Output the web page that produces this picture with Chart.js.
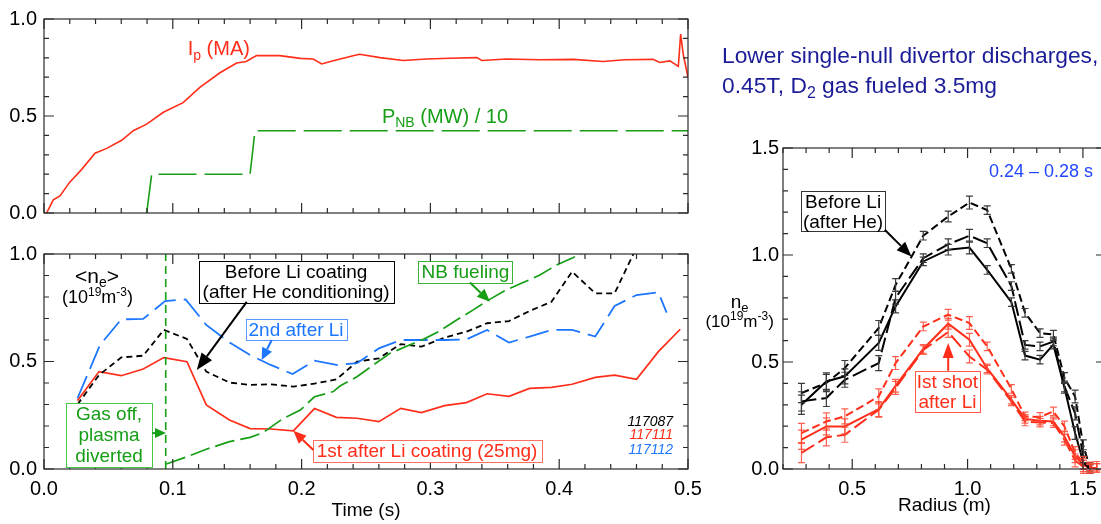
<!DOCTYPE html>
<html>
<head>
<meta charset="utf-8">
<title>Density with Li coating</title>
<script src="https://cdn.jsdelivr.net/npm/chart.js@4.4.1/dist/chart.umd.min.js"></script>
<style>
  html, body { margin:0; padding:0; background:#fff; }
  body { width:1101px; height:524px; overflow:hidden; position:relative; font-family:"Liberation Sans", Arial, Helvetica, sans-serif; }
  canvas { position:absolute; }
  #heading { position:absolute; left:722px; top:40px; color:rgb(28,28,150); font-size:22.8px; line-height:30px; white-space:nowrap; }
  #heading sub { font-size:70%; vertical-align:-0.3em; line-height:0; }
</style>
</head>
<body>
<canvas id="topChart" width="700" height="232" style="left:0;top:0"></canvas>
<canvas id="densChart" width="720" height="292" style="left:0;top:232px"></canvas>
<canvas id="profChart" width="410" height="404" style="left:700px;top:120px"></canvas>
<div id="heading">Lower single-null divertor discharges,<br>0.45T, D<sub>2</sub> gas fueled 3.5mg</div>
<script>
// ---------------- data: top panel ----------------
const ipTime = [0.002, 0.0072, 0.0124, 0.020, 0.0293, 0.0396, 0.0487, 0.0603, 0.0693, 0.0797, 0.0927, 0.108, 0.121, 0.1366, 0.1496, 0.157, 0.165, 0.183, 0.199, 0.209, 0.2156, 0.2246, 0.240, 0.245, 0.261, 0.279, 0.297, 0.315, 0.336, 0.340, 0.359, 0.385, 0.411, 0.434, 0.451, 0.473, 0.478, 0.486, 0.4925, 0.4943, 0.4964, 0.4977, 0.5];
const ipMA   = [0.0, 0.068, 0.088, 0.159, 0.225, 0.308, 0.333, 0.375, 0.424, 0.458, 0.519, 0.569, 0.648, 0.723, 0.773, 0.781, 0.811, 0.811, 0.797, 0.794, 0.768, 0.785, 0.811, 0.818, 0.801, 0.786, 0.794, 0.798, 0.801, 0.786, 0.794, 0.790, 0.792, 0.781, 0.790, 0.792, 0.776, 0.784, 0.756, 0.922, 0.814, 0.773, 0.698];
const pnbTime  = [0.0797, 0.0836, 0.160, 0.1638, 0.5];
const pnbMW10  = [0.0, 0.2, 0.2, 0.424, 0.424];

// ---------------- data: bottom panel (line-averaged density) ----------------
const tsTime   = [0.026, 0.0427, 0.060, 0.077, 0.093, 0.111, 0.126, 0.144, 0.160, 0.176, 0.1936, 0.210, 0.227, 0.243, 0.260, 0.277, 0.293, 0.311, 0.328, 0.344, 0.361, 0.377, 0.394, 0.410, 0.428, 0.443, 0.460, 0.477, 0.494];
const ne117087 = [0.30, 0.437, 0.519, 0.527, 0.647, 0.605, 0.453, 0.402, 0.391, 0.394, 0.383, 0.397, 0.417, 0.499, 0.515, 0.581, 0.569, 0.611, 0.639, 0.678, 0.688, 0.735, 0.778, 0.918, 0.817, 0.817, 1.03, null, null];
const ne117111 = [0.318, 0.453, 0.434, 0.465, 0.518, 0.499, 0.298, 0.228, 0.188, 0.186, 0.177, 0.281, 0.240, 0.236, 0.220, 0.282, 0.262, 0.295, 0.309, 0.350, 0.338, 0.375, 0.380, 0.394, 0.426, 0.437, 0.417, 0.546, 0.650];
const tsTime117112 = [0.026, 0.0435, 0.060, 0.077, 0.094, 0.110, 0.126, 0.144, 0.160, 0.176, 0.193, 0.210, 0.227, 0.243, 0.260, 0.277, 0.293, 0.311, 0.328, 0.344, 0.361, 0.377, 0.394, 0.410, 0.428, 0.443, 0.460, 0.477, 0.4834];
const ne117112 = [0.329, 0.577, 0.696, 0.698, 0.781, 0.789, 0.670, 0.589, 0.530, 0.484, 0.442, 0.504, 0.484, 0.492, 0.561, 0.600, 0.600, 0.600, 0.603, 0.647, 0.588, 0.616, 0.647, 0.647, 0.616, 0.758, 0.809, 0.822, 0.727];
const nbFuelTime = [0.095, 0.111, 0.126, 0.144, 0.160, 0.170, 0.186, 0.199, 0.210, 0.2246, 0.2298, 0.243, 0.2557, 0.2686, 0.282, 0.2945, 0.3075, 0.3204, 0.3333, 0.346, 0.359, 0.372, 0.385, 0.398, 0.411, 0.4175, 0.430];
const nbFuelNe   = [0.023, 0.057, 0.092, 0.127, 0.147, 0.169, 0.236, 0.274, 0.336, 0.360, 0.386, 0.429, 0.484, 0.538, 0.572, 0.603, 0.643, 0.693, 0.740, 0.789, 0.833, 0.867, 0.902, 0.949, 0.984, 1.003, 1.050];
const gasOffTime = 0.0945;

// ---------------- data: right panel (profiles, 0.24-0.28 s) ----------------
const radius        = [0.28, 0.388, 0.468, 0.615, 0.688, 0.808, 0.916, 1.008, 1.085, 1.19, 1.249, 1.314, 1.372, 1.42, 1.466, 1.502, 1.53, 1.56];
const neBeforeShort = [0.355, 0.402, 0.472, 0.659, 0.86, 1.09, 1.18, 1.245, 1.21, 0.935, 0.73, 0.635, 0.628, 0.425, 0.339, 0.106, 0.01, null];
const neBeforeLong  = [0.316, 0.332, 0.417, 0.495, 0.80, 0.985, 1.05, 1.09, 1.055, 0.855, 0.58, 0.573, 0.596, 0.386, 0.26, 0.06, 0.0, null];
const neBeforeSolid = [0.30, 0.409, 0.433, 0.589, 0.76, 0.97, 1.025, 1.035, 0.93, 0.78, 0.53, 0.511, 0.581, 0.38, 0.168, 0.03, 0.0, null];
const neAfterShort  = [0.168, 0.222, 0.246, 0.339, 0.495, 0.666, 0.721, 0.682, 0.573, 0.374, 0.246, 0.243, 0.269, 0.199, 0.075, 0.028, 0.012, 0.015];
const neAfterSolid  = [0.137, 0.199, 0.199, 0.280, 0.389, 0.561, 0.679, 0.604, 0.47, 0.324, 0.234, 0.226, 0.222, 0.152, 0.06, 0.018, 0.005, 0.005];
const neAfterLong   = [0.075, 0.148, 0.160, 0.277, 0.379, 0.556, 0.640, 0.526, 0.464, 0.316, 0.222, 0.217, 0.214, 0.137, 0.04, 0.01, 0.0, 0.005];
const neErr         = [0.045, 0.04, 0.035, 0.035, 0.03, 0.02, 0.025, 0.03, 0.02, 0.02, 0.02, 0.02, 0.02, 0.025, 0.03, 0.03, 0.02, 0.02];

// ---------------- tick labels ----------------
const timeTicks    = [0, 0.1, 0.2, 0.3, 0.4, 0.5];
const unitTicks    = [0, 0.5, 1.0];
const radiusTicks  = [0.5, 1.0, 1.5];
const profileTicks = [0, 0.5, 1.0, 1.5];

// ---------------- style ----------------
const FF = '"Liberation Sans", Arial, Helvetica, sans-serif';
Chart.defaults.font.family = FF;
Chart.defaults.color = '#000';
const RED = 'rgb(255,45,25)', GREEN = 'rgb(22,158,22)', BLUE = 'rgb(28,118,255)';
const RED_ERR = 'rgba(255,70,50,0.85)', BLK_ERR = '#3a3a3a';

const pts = (xs, ys) => xs.map((x, i) => ({ x, y: ys[i] }));

function yScale(ticks, min, max, width, pad) {
  return { type: 'linear', min, max, position: 'left',
    grid: { display: false, drawTicks: false }, border: { display: false },
    afterBuildTicks: s => { s.ticks = ticks.map(v => ({ value: v })); },
    afterFit: s => { s.width = width; },
    ticks: { autoSkip: false, padding: pad, color: '#000', font: { size: 20 }, callback: v => Number(v).toFixed(1) } };
}
function xScale(ticks, min, max, height, pad, title, tpad) {
  return { type: 'linear', min, max, position: 'bottom',
    grid: { display: false, drawTicks: false }, border: { display: false },
    afterBuildTicks: s => { s.ticks = ticks.map(v => ({ value: v })); },
    afterFit: s => { s.height = height; },
    ticks: { autoSkip: false, maxRotation: 0, minRotation: 0, padding: pad, color: '#000', font: { size: 20 }, callback: v => Number(v).toFixed(1) },
    title: { display: true, text: title, color: '#000', font: { size: 19 }, padding: { top: 0, bottom: tpad } } };
}

// ---------------- drawing helpers ----------------
function drawRich(ctx, parts, x, y, size, color, align, italic) {
  ctx.save();
  const fontFor = m => `${italic ? 'italic ' : ''}${m ? Math.round(size * 0.68) : size}px ${FF}`;
  let w = 0;
  for (const [t, m] of parts) { ctx.font = fontFor(m); w += ctx.measureText(t).width; }
  let cx = align === 'right' ? x - w : align === 'left' ? x : x - w / 2;
  ctx.fillStyle = color; ctx.textAlign = 'left'; ctx.textBaseline = 'middle';
  for (const [t, m] of parts) {
    ctx.font = fontFor(m);
    const dy = m === 1 ? size * 0.3 : m === 2 ? -size * 0.32 : 0;
    ctx.fillText(t, cx, y + dy);
    cx += ctx.measureText(t).width;
  }
  ctx.restore();
}
function drawBox(ctx, n, cx, cy) {
  ctx.save();
  ctx.font = `${n.size}px ${FF}`;
  const w = Math.max(...n.lines.map(l => ctx.measureText(l).width));
  const h = n.lines.length * n.lh;
  const bw = Math.round(w + 2 * n.padX), bh = Math.round(h + 2 * n.padY);
  const bx = Math.round(cx - bw / 2) + 0.5, by = Math.round(cy - bh / 2) + 0.5;
  ctx.fillStyle = '#fff'; ctx.fillRect(bx, by, bw, bh);
  ctx.strokeStyle = n.border; ctx.lineWidth = 1; ctx.setLineDash([]); ctx.strokeRect(bx, by, bw, bh);
  ctx.fillStyle = n.color; ctx.textAlign = 'center'; ctx.textBaseline = 'middle';
  n.lines.forEach((l, i) => ctx.fillText(l, cx, cy - h / 2 + n.lh * (i + 0.5) + 1));
  ctx.restore();
}
function drawArrow(ctx, x1, y1, x2, y2, color, hl, hw) {
  const a = Math.atan2(y2 - y1, x2 - x1);
  const bx = x2 - hl * Math.cos(a), by = y2 - hl * Math.sin(a);
  ctx.save();
  ctx.strokeStyle = color; ctx.fillStyle = color; ctx.lineWidth = 2; ctx.setLineDash([]);
  ctx.beginPath(); ctx.moveTo(x1, y1); ctx.lineTo(bx, by); ctx.stroke();
  ctx.beginPath(); ctx.moveTo(x2, y2);
  ctx.lineTo(bx + hw * Math.sin(a), by - hw * Math.cos(a));
  ctx.lineTo(bx - hw * Math.sin(a), by + hw * Math.cos(a));
  ctx.closePath(); ctx.fill();
  ctx.restore();
}

// ---------------- plugins ----------------
function framePlugin(o) {
  return { id: 'frameTicks', afterDatasetsDraw(chart) {
    const { ctx, chartArea: a, scales: { x, y } } = chart;
    const each = (min, max, step, fn) => { for (let k = Math.ceil(min / step - 1e-9); k * step <= max + 1e-9; k++) fn(k * step); };
    const isMaj = (v, m) => Math.abs(v / m - Math.round(v / m)) < 1e-6;
    ctx.save();
    ctx.strokeStyle = '#2a2a2a'; ctx.lineWidth = 1.2; ctx.setLineDash([]);
    ctx.strokeRect(a.left, a.top, a.right - a.left, a.bottom - a.top);
    ctx.beginPath();
    each(x.min, x.max, o.xMinor, v => {
      const p = x.getPixelForValue(v), L = isMaj(v, o.xMajor) ? 10 : 5;
      ctx.moveTo(p, a.bottom); ctx.lineTo(p, a.bottom - L);
      ctx.moveTo(p, a.top); ctx.lineTo(p, a.top + L);
    });
    each(y.min, y.max, o.yMinor, v => {
      const p = y.getPixelForValue(v), L = isMaj(v, o.yMajor) ? 10 : 5;
      ctx.moveTo(a.left, p); ctx.lineTo(a.left + L, p);
      ctx.moveTo(a.right, p); ctx.lineTo(a.right - L, p);
    });
    ctx.stroke();
    ctx.restore();
  } };
}
function notesPlugin(items) {
  return { id: 'notes', afterDraw(chart) {
    const { ctx, scales: { x, y } } = chart;
    const px = v => x.getPixelForValue(v), py = v => y.getPixelForValue(v);
    for (const n of items) {
      if (n.kind === 'rich') drawRich(ctx, n.parts, px(n.x), py(n.y), n.size, n.color, n.align, n.italic);
      else if (n.kind === 'box') drawBox(ctx, n, px(n.x), py(n.y));
      else if (n.kind === 'arrow') drawArrow(ctx, px(n.x1), py(n.y1), px(n.x2), py(n.y2), n.color, n.hl, n.hw);
    }
  } };
}
const errorBarPlugin = { id: 'errBars', afterDatasetsDraw(chart) {
  const { ctx, scales: { x, y } } = chart;
  ctx.save(); ctx.setLineDash([]); ctx.lineWidth = 1.2;
  chart.data.datasets.forEach(ds => {
    if (!ds.errs) return;
    ctx.strokeStyle = ds.errColor;
    ctx.beginPath();
    ds.data.forEach((p, i) => {
      if (p.y === null || p.y === undefined) return;
      const px = x.getPixelForValue(p.x), lo = y.getPixelForValue(p.y - ds.errs[i]), hi = y.getPixelForValue(p.y + ds.errs[i]);
      ctx.moveTo(px, lo); ctx.lineTo(px, hi);
      ctx.moveTo(px - 3.5, lo); ctx.lineTo(px + 3.5, lo);
      ctx.moveTo(px - 3.5, hi); ctx.lineTo(px + 3.5, hi);
    });
    ctx.stroke();
  });
  ctx.restore();
} };

const baseOpts = {
  responsive: false, animation: false, devicePixelRatio: 1,
  elements: { point: { radius: 0, hoverRadius: 0 }, line: { tension: 0, fill: false } },
  plugins: { legend: { display: false }, tooltip: { enabled: false } },
  events: []
};

// ---------------- top panel: Ip and PNB ----------------
new Chart(document.getElementById('topChart'), {
  type: 'line',
  data: { datasets: [
    { label: 'P_NB (MW) / 10', data: pts(pnbTime, pnbMW10), borderColor: GREEN, borderWidth: 1.6, borderDash: [38, 8] },
    { label: 'I_p (MA)', data: pts(ipTime, ipMA), borderColor: RED, borderWidth: 1.6 }
  ] },
  options: Object.assign({}, baseOpts, {
    layout: { padding: { top: 16, right: 12, bottom: 15, left: 0 } },
    scales: { x: { type: 'linear', min: 0, max: 0.5, display: false }, y: yScale(unitTicks, 0, 1, 44, 7) }
  }),
  plugins: [framePlugin({ xMinor: 0.02, xMajor: 0.1, yMinor: 0.1, yMajor: 0.5 }), notesPlugin([
    { kind: 'rich', x: 0.1357, y: 0.841, size: 20, color: RED, parts: [['I', 0], ['p', 1], [' (MA)', 0]] },
    { kind: 'rich', x: 0.3113, y: 0.4925, size: 20, color: GREEN, parts: [['P', 0], ['NB', 1], [' (MW) / 10', 0]] }
  ])]
});

// ---------------- bottom panel: line-averaged density ----------------
new Chart(document.getElementById('densChart'), {
  type: 'line',
  data: { datasets: [
    { label: 'Gas off', data: [{ x: gasOffTime, y: 0 }, { x: gasOffTime, y: 1 }], borderColor: GREEN, borderWidth: 1.6, borderDash: [8, 5] },
    { label: 'NB fueling', data: pts(nbFuelTime, nbFuelNe), borderColor: GREEN, borderWidth: 1.7, borderDash: [20, 6] },
    { label: '117112', data: pts(tsTime117112, ne117112), borderColor: BLUE, borderWidth: 1.8, borderDash: [24, 8] },
    { label: '117087', data: pts(tsTime, ne117087), borderColor: '#000', borderWidth: 1.8, borderDash: [6, 4] },
    { label: '117111', data: pts(tsTime, ne117111), borderColor: RED, borderWidth: 1.7 }
  ] },
  options: Object.assign({}, baseOpts, {
    layout: { padding: { top: 22, right: 32, bottom: 0, left: 0 } },
    scales: { x: xScale(timeTicks, 0, 0.5, 55, 8, 'Time (s)', 2), y: yScale(unitTicks, 0, 1, 44, 7) }
  }),
  plugins: [framePlugin({ xMinor: 0.02, xMajor: 0.1, yMinor: 0.1, yMajor: 0.5 }), notesPlugin([
    { kind: 'rich', x: 0.0411, y: 0.893, size: 21, color: '#000', parts: [['<n', 0], ['e', 1], ['>', 0]] },
    { kind: 'rich', x: 0.0415, y: 0.795, size: 18, color: '#000', parts: [['(10', 0], ['19', 2], ['m', 0], ['-3', 2], [')', 0]] },
    { kind: 'box', x: 0.1957, y: 0.870, size: 19, lh: 20, padX: 4, padY: 1, color: '#000', border: '#000', lines: ['Before Li coating', '(after He conditioning)'] },
    { kind: 'arrow', x1: 0.1574, y1: 0.777, x2: 0.1186, y2: 0.460, color: '#000', hl: 17, hw: 6.5 },
    { kind: 'box', x: 0.1957, y: 0.649, size: 19, lh: 21, padX: 3, padY: 0, color: BLUE, border: 'rgb(90,150,255)', lines: ['2nd after Li'] },
    { kind: 'arrow', x1: 0.1768, y1: 0.600, x2: 0.169, y2: 0.507, color: BLUE, hl: 12, hw: 5.5 },
    { kind: 'box', x: 0.3272, y: 0.916, size: 19, lh: 22, padX: 3, padY: 0, color: GREEN, border: 'rgb(60,180,60)', lines: ['NB fueling'] },
    { kind: 'arrow', x1: 0.3307, y1: 0.867, x2: 0.3463, y2: 0.778, color: GREEN, hl: 13, hw: 5.5 },
    { kind: 'box', x: 0.0505, y: 0.158, size: 19, lh: 21, padX: 9, padY: 0.5, color: GREEN, border: 'rgb(70,200,70)', lines: ['Gas off,', 'plasma', 'diverted'] },
    { kind: 'arrow', x1: 0.0839, y1: 0.167, x2: 0.0947, y2: 0.167, color: GREEN, hl: 11, hw: 5 },
    { kind: 'box', x: 0.2974, y: 0.0837, size: 19, lh: 22, padX: 4, padY: 0, color: RED, border: 'rgb(255,110,95)', lines: ['1st after Li coating (25mg)'] },
    { kind: 'arrow', x1: 0.2091, y1: 0.0884, x2: 0.1936, y2: 0.178, color: RED, hl: 13, hw: 5.5 },
    { kind: 'rich', x: 0.4884, y: 0.22, size: 14, italic: true, align: 'right', color: '#000', parts: [['117087', 0]] },
    { kind: 'rich', x: 0.4884, y: 0.158, size: 14, italic: true, align: 'right', color: RED, parts: [['117111', 0]] },
    { kind: 'rich', x: 0.4884, y: 0.088, size: 14, italic: true, align: 'right', color: BLUE, parts: [['117112', 0]] }
  ])]
});

// ---------------- right panel: density profiles ----------------
new Chart(document.getElementById('profChart'), {
  type: 'line',
  data: { datasets: [
    { label: 'Before Li (a)', data: pts(radius, neBeforeShort), borderColor: '#000', borderWidth: 2, borderDash: [8, 4], errs: neErr, errColor: BLK_ERR },
    { label: 'Before Li (b)', data: pts(radius, neBeforeLong), borderColor: '#000', borderWidth: 2, borderDash: [15, 5], errs: neErr, errColor: BLK_ERR },
    { label: 'Before Li (c)', data: pts(radius, neBeforeSolid), borderColor: '#000', borderWidth: 2, errs: neErr, errColor: BLK_ERR },
    { label: '1st after Li (a)', data: pts(radius, neAfterShort), borderColor: RED, borderWidth: 2, borderDash: [8, 4], errs: neErr, errColor: RED_ERR },
    { label: '1st after Li (b)', data: pts(radius, neAfterSolid), borderColor: RED, borderWidth: 2, errs: neErr, errColor: RED_ERR },
    { label: '1st after Li (c)', data: pts(radius, neAfterLong), borderColor: RED, borderWidth: 2, borderDash: [15, 5], errs: neErr, errColor: RED_ERR }
  ] },
  options: Object.assign({}, baseOpts, {
    layout: { padding: { top: 28, right: 4, bottom: 0, left: 0 } },
    scales: { x: xScale(radiusTicks, 0.2, 1.6, 55, 8, 'Radius (m)', 7), y: yScale(profileTicks, 0, 1.5, 83, 4) }
  }),
  plugins: [errorBarPlugin, framePlugin({ xMinor: 0.1, xMajor: 0.5, yMinor: 0.1, yMajor: 0.5 }), notesPlugin([
    { kind: 'rich', x: 1.3185, y: 1.389, size: 18, color: 'rgb(35,70,255)', parts: [['0.24 \u2013 0.28 s', 0]] },
    { kind: 'box', x: 0.4604, y: 1.204, size: 19, lh: 20, padX: 2, padY: 0, color: '#000', border: '#333', lines: ['Before Li', '(after He)'] },
    { kind: 'arrow', x1: 0.641, y1: 1.118, x2: 0.757, y2: 0.993, color: '#000', hl: 15, hw: 6 },
    { kind: 'box', x: 0.9127, y: 0.362, size: 19, lh: 20.5, padX: 2, padY: 0, color: RED, border: 'rgb(255,90,70)', lines: ['Ist shot', 'after Li'] },
    { kind: 'arrow', x1: 0.916, y1: 0.459, x2: 0.916, y2: 0.589, color: RED, hl: 15, hw: 5.5 },
    { kind: 'rich', x: 0.012, y: 0.777, size: 19, color: '#000', parts: [['n', 0], ['e', 1]] },
    { kind: 'rich', x: 0.012, y: 0.684, size: 17, color: '#000', parts: [['(10', 0], ['19', 2], ['m', 0], ['-3', 2], [')', 0]] }
  ])]
});
</script>
</body>
</html>
